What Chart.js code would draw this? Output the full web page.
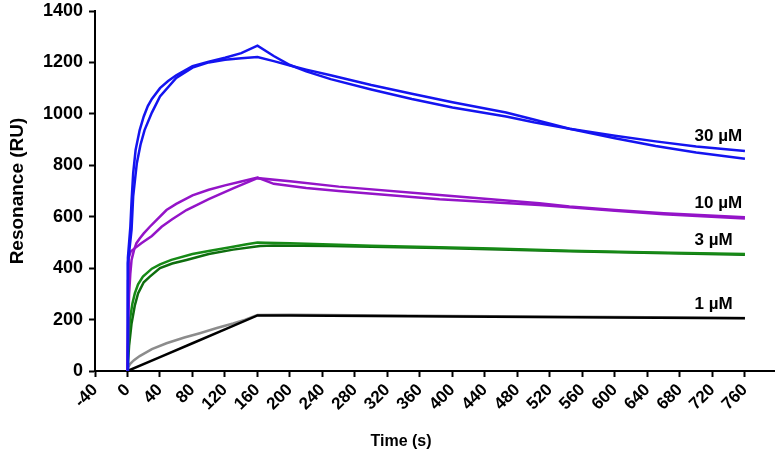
<!DOCTYPE html>
<html>
<head>
<meta charset="utf-8">
<title>SPR sensorgram</title>
<script src="https://cdn.jsdelivr.net/npm/chart.js@4.4.0/dist/chart.umd.min.js"></script>
<style>
  html, body { margin: 0; padding: 0; background: #fff; }
  #wrap { width: 775px; height: 456px; position: relative; }
</style>
</head>
<body>
<div id="wrap"><canvas id="sprChart"></canvas></div>
<script>
'use strict';

// axis ticks
const timeTicks = [-40, 0, 40, 80, 120, 160, 200, 240, 280, 320, 360, 400, 440, 480, 520, 560, 600, 640, 680, 720, 760];
const respTicks = [0, 200, 400, 600, 800, 1000, 1200, 1400];

const concLabels = ['30 µM', '10 µM', '3 µM', '1 µM'];
const xTitle = 'Time (s)';
const yTitle = 'Resonance (RU)';

const c30aT = [0, 0.5, 2, 3.5, 5, 7, 10, 15, 20, 25, 30, 40, 50, 60, 80, 100, 120, 140, 160, 180, 200, 220, 250, 300, 350, 400, 466, 500, 544, 600, 650, 700, 760];
const c30aV = [0, 440, 500, 560, 660, 770, 860, 937, 990, 1030, 1058, 1100, 1128, 1150, 1185, 1203, 1218, 1236, 1265, 1225, 1190, 1165, 1135, 1095, 1058, 1025, 990, 967, 942, 915, 893, 873, 856];
const c30bT = [0, 0.5, 2, 5, 7, 11.5, 16, 21, 30, 40, 60, 80, 100, 120, 140, 160, 180, 200, 220, 250, 300, 350, 400, 466, 500, 544, 600, 650, 700, 760];
const c30bV = [0, 420, 460, 550, 680, 808, 880, 937, 1005, 1068, 1140, 1180, 1200, 1210, 1216, 1221, 1205, 1188, 1172, 1150, 1112, 1078, 1045, 1005, 978, 942, 905, 875, 850, 825];

// 10 uM
const c10aT = [0, 1, 2, 3.5, 5, 8, 11, 15, 20, 27.5, 35, 48, 60, 80, 100, 120, 140, 160, 180, 220, 260, 384, 507, 544, 600, 660, 760];
const c10aV = [0, 200, 300, 380, 432, 470, 497, 515, 535, 561, 585, 626, 650, 683, 705, 722, 737, 752, 728, 712, 700, 668, 646, 637, 623, 610, 593];
const c10bT = [0, 0.7, 1.5, 4, 8, 17, 30, 42, 55, 72.6, 100, 130, 160, 200, 260, 384, 507, 544, 600, 660, 760];
const c10bV = [0, 350, 440, 465, 475, 497, 525, 561, 590, 626, 668, 710, 750, 738, 717, 684, 652, 640, 626, 613, 598];

// 3 uM
const c3aT = [0, 1, 3, 6, 9, 13, 19, 30, 40, 54, 80, 100, 130, 145, 160, 170, 200, 250, 300, 384, 450, 544, 650, 760];
const c3aV = [0, 120, 200, 262, 302, 337, 367, 398, 415, 432, 455, 467, 483, 492, 500, 499, 497, 492, 487, 481, 476, 468, 461, 455];
const c3bT = [0, 2, 5, 9, 13, 20, 27.5, 40, 55, 72.6, 100, 130, 163, 180, 250, 384, 544, 650, 760];
const c3bV = [0, 100, 185, 255, 302, 345, 367, 400, 418, 432, 455, 472, 486, 488, 486, 478, 466, 459, 452];

// 1 uM
const c1aT = [0, 1, 3, 8, 15, 30, 48, 70, 89, 110, 130, 145, 160, 200, 400, 600, 760];
const c1aV = [0, 15, 27, 42, 58, 85, 108, 130, 147, 167, 185, 200, 218, 219, 214, 210, 206];
const c1bT = [0, 40, 80, 120, 160, 200, 400, 600, 760];
const c1bV = [0, 54, 108, 162, 216, 216, 212, 208, 205];

const FONT = '"Liberation Sans", Arial, sans-serif';

function toPoints(ts, vs) {
    return ts.map((t, i) => ({ x: t, y: vs[i] }));
}

function trace(label, ts, vs, color) {
    return {
        label: label,
        data: toPoints(ts, vs),
        borderColor: color,
        borderWidth: 2.5,
        pointRadius: 0,
        fill: false,
        tension: 0
    };
}

// concentration labels at the right end + x axis title
const textPlugin = {
    id: 'sprText',
    afterDatasetsDraw(chart) {
        const ctx = chart.ctx;
        const xs = chart.scales.x;
        const ys = chart.scales.y;
        const spots = [[698, 896], [698, 634], [698, 490], [698, 241]];
        ctx.save();
        ctx.fillStyle = '#000';
        ctx.font = 'bold 17px ' + FONT;
        ctx.textAlign = 'left';
        ctx.textBaseline = 'alphabetic';
        concLabels.forEach((s, i) => {
            ctx.fillText(s, xs.getPixelForValue(spots[i][0]), ys.getPixelForValue(spots[i][1]));
        });
        ctx.font = 'bold 16px ' + FONT;
        ctx.textAlign = 'center';
        ctx.fillText(xTitle, 401, 446);
        ctx.restore();
    }
};

const ctx = document.getElementById('sprChart').getContext('2d');
new Chart(ctx, {
    type: 'line',
    data: {
        datasets: [
            trace('30 µM a', c30aT, c30aV, '#1414f0'),
            trace('30 µM b', c30bT, c30bV, '#1414f0'),
            trace('10 µM a', c10aT, c10aV, '#9414c8'),
            trace('10 µM b', c10bT, c10bV, '#9414c8'),
            trace('3 µM a', c3aT, c3aV, '#168a16'),
            trace('3 µM b', c3bT, c3bV, '#0e6e0e'),
            trace('1 µM b', c1bT, c1bV, '#000000'),
            trace('1 µM a', c1aT, c1aV, '#8c8c8c')
        ]
    },
    options: {
        responsive: true,
        maintainAspectRatio: false,
        animation: false,
        layout: { padding: { top: 11, right: 0, left: 0, bottom: 0 } },
        plugins: {
            legend: { display: false },
            tooltip: { enabled: false }
        },
        scales: {
            x: {
                type: 'linear',
                min: -40,
                max: 797,
                afterBuildTicks: (scale) => { scale.ticks = timeTicks.map(v => ({ value: v })); },
                afterFit: (scale) => { scale.height = 85; },
                grid: { drawOnChartArea: false, drawTicks: true, tickLength: 6, tickColor: '#000', tickWidth: 2 },
                border: { display: true, color: '#000', width: 2 },
                ticks: {
                    autoSkip: false,
                    minRotation: 45,
                    maxRotation: 45,
                    padding: 3,
                    color: '#000',
                    font: { family: FONT, size: 17, weight: 'bold' },
                    callback: (v) => String(v)
                },
                title: { display: false }
            },
            y: {
                type: 'linear',
                min: 0,
                max: 1400,
                afterBuildTicks: (scale) => { scale.ticks = respTicks.map(v => ({ value: v })); },
                afterFit: (scale) => {
                    scale.width = 95;
                    scale.paddingTop = 0;
                    scale.paddingBottom = 0;
                },
                grid: { drawOnChartArea: false, drawTicks: true, tickLength: 6, tickColor: '#000', tickWidth: 2 },
                border: { display: true, color: '#000', width: 2 },
                ticks: {
                    padding: 6,
                    color: '#000',
                    font: { family: FONT, size: 18, weight: 'bold' },
                    callback: (v) => String(v)
                },
                title: {
                    display: true,
                    text: yTitle,
                    color: '#000',
                    padding: { top: 6, bottom: 0 },
                    font: { family: FONT, size: 19, weight: 'bold' }
                }
            }
        }
    },
    plugins: [textPlugin]
});
</script>
</body>
</html>
